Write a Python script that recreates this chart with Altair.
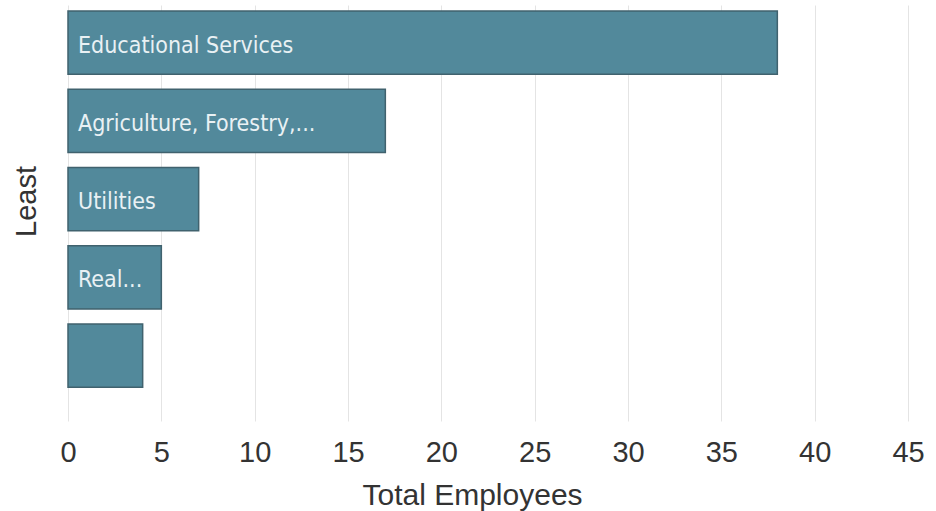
import altair as alt
import pandas as pd

categories = ["Educational Services", "Agriculture, Forestry, Fishing and Hunting", "Utilities",
              "Real Estate and Rental and Leasing", "Other"]
bar_labels = ["Educational Services", "Agriculture, Forestry,...", "Utilities", "Real...", ""]
employees = [38, 17, 7, 5, 4]
x_ticks = [0, 5, 10, 15, 20, 25, 30, 35, 40, 45]

df = pd.DataFrame({"category": categories, "label": bar_labels, "employees": employees})

yscale = alt.Scale(domain=categories, paddingInner=0.19, paddingOuter=0.253, align=0.15)
xscale = alt.Scale(domain=[0, 45], nice=False)

FONT = "Liberation Sans"

base = alt.Chart(df).encode(
    y=alt.Y("category:N", scale=yscale, sort=categories,
            axis=alt.Axis(title="Least", labels=False, ticks=False, domain=False,
                          titleFont=FONT, titleFontSize=29, titleFontWeight="normal",
                          titleColor="#333333", titlePadding=27, titleY=196)),
)

bars = base.mark_bar(color="#52899b", stroke="#40626e", strokeWidth=1.5).encode(
    x=alt.X("employees:Q", scale=xscale,
            axis=alt.Axis(title="Total Employees", values=x_ticks, ticks=False, domain=False,
                          labelFont=FONT, labelFontSize=29, labelColor="#333333",
                          labelPadding=17, labelFlush=False,
                          titleFont=FONT, titleFontSize=30, titleFontWeight="normal",
                          titleColor="#333333", titlePadding=13, titleX=404,
                          gridColor="#e4e4e4", gridWidth=1)),
)

texts = base.mark_text(align="left", baseline="middle", dx=10, dy=3, color="#e9f1f4",
                       font="DejaVu Sans Condensed", fontSize=23).encode(
    x=alt.datum(0), text="label:N"
)

chart = (bars + texts).properties(
    width=840, height=416,
    autosize=alt.AutoSizeParams(type="none"),
    padding={"left": 68, "top": 5, "right": 28, "bottom": 90},
).configure_view(stroke=None)

chart.save("out.html", embed_options={"renderer": "svg", "actions": False})
